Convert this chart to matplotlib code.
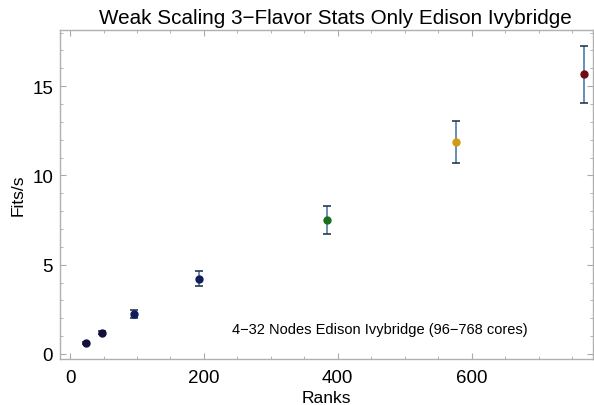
import matplotlib
matplotlib.use("Agg")
import matplotlib.pyplot as plt
from matplotlib.ticker import MultipleLocator

plt.rcParams['font.family'] = ['Liberation Sans', 'DejaVu Sans']

ranks = [24, 48, 96, 192, 384, 576, 768]
fits = [0.63, 1.19, 2.22, 4.20, 7.50, 11.85, 15.65]
errs = [0.05, 0.08, 0.23, 0.42, 0.78, 1.18, 1.57]
colors = ['#14103c', '#14103c', '#101c5c', '#101c5c', '#1a6e1e', '#d49a12', '#6e0c12']

title = "Weak Scaling 3\u2212Flavor Stats Only Edison Ivybridge"
xlabel = "Ranks"
ylabel = "Fits/s"
note = "4\u221232 Nodes Edison Ivybridge (96\u2212768 cores)"

fig = plt.figure(figsize=(5.94, 4.06), dpi=100)
ax = fig.add_axes([0.101, 0.1133, 0.897, 0.8103])

for x, y, e, c in zip(ranks, fits, errs, colors):
    ax.errorbar([x], [y], yerr=[e], fmt='none', ecolor='#5b86b0', elinewidth=1.3,
                capsize=0, zorder=2)
    ax.errorbar([x], [y], yerr=[e], fmt='none', ecolor='#2a3a50', elinewidth=0,
                capsize=3, capthick=1.2, zorder=2)
    ax.plot([x], [y], 'o', color=c, markersize=5, zorder=3)

ax.set_xlim(-15, 781)
ax.set_ylim(-0.28, 18.14)
ax.xaxis.set_major_locator(MultipleLocator(200))
ax.xaxis.set_minor_locator(MultipleLocator(50))
ax.yaxis.set_major_locator(MultipleLocator(5))
ax.yaxis.set_minor_locator(MultipleLocator(1))
ax.tick_params(which='both', direction='in', top=True, right=True, color='#aaaaaa')
ax.tick_params(which='major', length=4, labelsize=13.5)
ax.tick_params(axis='x', which='major', pad=7)
ax.tick_params(axis='y', which='major', pad=5)
ax.tick_params(which='minor', length=2)
for s in ax.spines.values():
    s.set_color('#b0b0b0')
    s.set_linewidth(1)

ax.set_title(title, fontsize=14.9, x=0.516, pad=5)
ax.set_xlabel(xlabel, fontsize=12.5, labelpad=3)
ax.set_ylabel(ylabel, fontsize=12.5, labelpad=5)
ax.text(463, 1.4, note, fontsize=10.5, ha='center', va='center')

fig.savefig("out.png", dpi=100)
